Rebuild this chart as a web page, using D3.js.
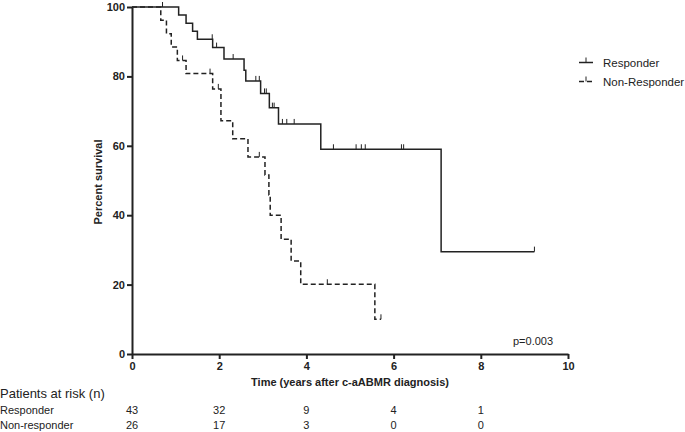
<!DOCTYPE html>
<html>
<head>
<meta charset="utf-8">
<script src="https://cdn.jsdelivr.net/npm/d3@7"></script>
<style>
  body { margin: 0; background: #fff; }
  svg { display: block; font-family: "Liberation Sans", Arial, sans-serif; }
</style>
</head>
<body>
<div id="chart"></div>
<script>
// Kaplan-Meier steps (years, percent surviving)
const respTimes = [0, 1.07, 1.24, 1.39, 1.50, 1.85, 2.11, 2.57, 2.61, 2.95, 3.15, 3.36, 4.33, 7.09, 9.23];
const respSurv = [100, 97.7, 95.3, 93.0, 90.7, 88.3, 85.0, 81.8, 78.7, 75.1, 71.0, 66.3, 59.0, 29.5, 29.5];
const respCensor = [0.70, 1.84, 1.94, 2.32, 2.84, 2.92, 3.04, 3.08, 3.22, 3.26, 3.45, 3.55, 3.72, 4.62, 5.14, 5.26, 5.35, 6.18, 6.23, 9.23];

const nonTimes = [0, 0.66, 0.79, 0.90, 1.04, 1.24, 1.85, 2.04, 2.31, 2.66, 3.05, 3.14, 3.17, 3.42, 3.65, 3.87, 5.57, 5.71];
const nonSurv = [100, 96.2, 92.3, 88.5, 84.6, 80.8, 76.4, 67.2, 62.0, 56.8, 51.6, 45.8, 40.0, 33.1, 26.8, 20.1, 10.0, 10.0];
const nonCensor = [1.16, 1.79, 1.98, 2.92, 4.48, 5.71];

const xTicks = [0, 2, 4, 6, 8, 10];
const yTicks = [0, 20, 40, 60, 80, 100];

const riskTimes = [0, 2, 4, 6, 8];
const respRisk = [43, 32, 9, 4, 1];
const nonRisk = [26, 17, 3, 0, 0];

const svgWidth = 685;
const svgHeight = 432;
const ink = "#222";

const svg = d3.select("#chart")
    .append("svg")
    .attr("width", svgWidth)
    .attr("height", svgHeight);

const xScale = d3.scaleLinear().domain([0, 10]).range([132, 568]);
const yScale = d3.scaleLinear().domain([0, 100]).range([354, 7]);

function survAt(times, surv, t) {
    let s = surv[0];
    times.forEach((tt, i) => { if (tt <= t) s = surv[i]; });
    return s;
}

// axes
const xAxis = svg.append("g")
    .attr("transform", `translate(0, ${yScale(0)})`)
    .call(d3.axisBottom(xScale).tickValues(xTicks).tickSize(5).tickSizeOuter(0).tickPadding(3));

const yAxis = svg.append("g")
    .attr("transform", `translate(${xScale(0)}, 0)`)
    .call(d3.axisLeft(yScale).tickValues(yTicks).tickSize(5).tickSizeOuter(0).tickPadding(2));

[xAxis, yAxis].forEach(ax => {
    ax.select(".domain").attr("stroke", ink).attr("stroke-width", 2);
    ax.selectAll(".tick line").attr("stroke", ink).attr("stroke-width", 2);
    ax.selectAll(".tick text")
        .attr("fill", ink)
        .attr("font-size", "11px")
        .attr("font-weight", "bold")
        .attr("font-family", "Liberation Sans, Arial, sans-serif");
});

svg.append("text")
    .attr("x", 350)
    .attr("y", 386)
    .attr("text-anchor", "middle")
    .attr("font-size", "11px")
    .attr("font-weight", "bold")
    .attr("fill", ink)
    .text("Time (years after c-aABMR diagnosis)");

svg.append("text")
    .attr("transform", "translate(102, 182) rotate(-90)")
    .attr("text-anchor", "middle")
    .attr("font-size", "11px")
    .attr("font-weight", "bold")
    .attr("fill", ink)
    .text("Percent survival");

// survival curves
const line = d3.line()
    .x(d => xScale(d[0]))
    .y(d => yScale(d[1]))
    .curve(d3.curveStepAfter);

const groups = [
    { times: respTimes, surv: respSurv, censor: respCensor, dash: null },
    { times: nonTimes, surv: nonSurv, censor: nonCensor, dash: "5,3" }
];

groups.forEach(g => {
    svg.append("path")
        .datum(g.times.map((t, i) => [t, g.surv[i]]))
        .attr("fill", "none")
        .attr("stroke", ink)
        .attr("stroke-width", 1.5)
        .attr("stroke-dasharray", g.dash)
        .attr("d", line);

    svg.selectAll(null)
        .data(g.censor)
        .enter()
        .append("line")
        .attr("x1", d => xScale(d))
        .attr("x2", d => xScale(d))
        .attr("y1", d => yScale(survAt(g.times, g.surv, d)))
        .attr("y2", d => yScale(survAt(g.times, g.surv, d)) - 5)
        .attr("stroke", ink)
        .attr("stroke-width", 1);
});

// legend
const legend = svg.append("g");
[["Responder", null, 62.5], ["Non-Responder", "5,3", 81.5]].forEach(([label, dash, y]) => {
    legend.append("line")
        .attr("x1", 579).attr("x2", 593)
        .attr("y1", y).attr("y2", y)
        .attr("stroke", ink)
        .attr("stroke-width", 1.5)
        .attr("stroke-dasharray", dash);
    legend.append("line")
        .attr("x1", 586).attr("x2", 586)
        .attr("y1", y).attr("y2", y - 5)
        .attr("stroke", ink)
        .attr("stroke-width", 1);
    legend.append("text")
        .attr("x", 603)
        .attr("y", y + 4)
        .attr("font-size", "11.5px")
        .attr("fill", ink)
        .text(label);
});

svg.append("text")
    .attr("x", 513)
    .attr("y", 345)
    .attr("font-size", "11px")
    .attr("fill", ink)
    .text("p=0.003");

// patients at risk table
svg.append("text")
    .attr("x", 0)
    .attr("y", 398)
    .attr("font-size", "13px")
    .attr("fill", ink)
    .text("Patients at risk (n)");

[["Responder", respRisk, 414], ["Non-responder", nonRisk, 429]].forEach(([label, vals, y]) => {
    svg.append("text")
        .attr("x", 0)
        .attr("y", y)
        .attr("font-size", "11px")
        .attr("fill", ink)
        .text(label);
    svg.selectAll(null)
        .data(vals)
        .enter()
        .append("text")
        .attr("x", (d, i) => xScale(riskTimes[i]))
        .attr("y", y)
        .attr("text-anchor", "middle")
        .attr("font-size", "11px")
        .attr("fill", ink)
        .text(d => d);
});
</script>
</body>
</html>
